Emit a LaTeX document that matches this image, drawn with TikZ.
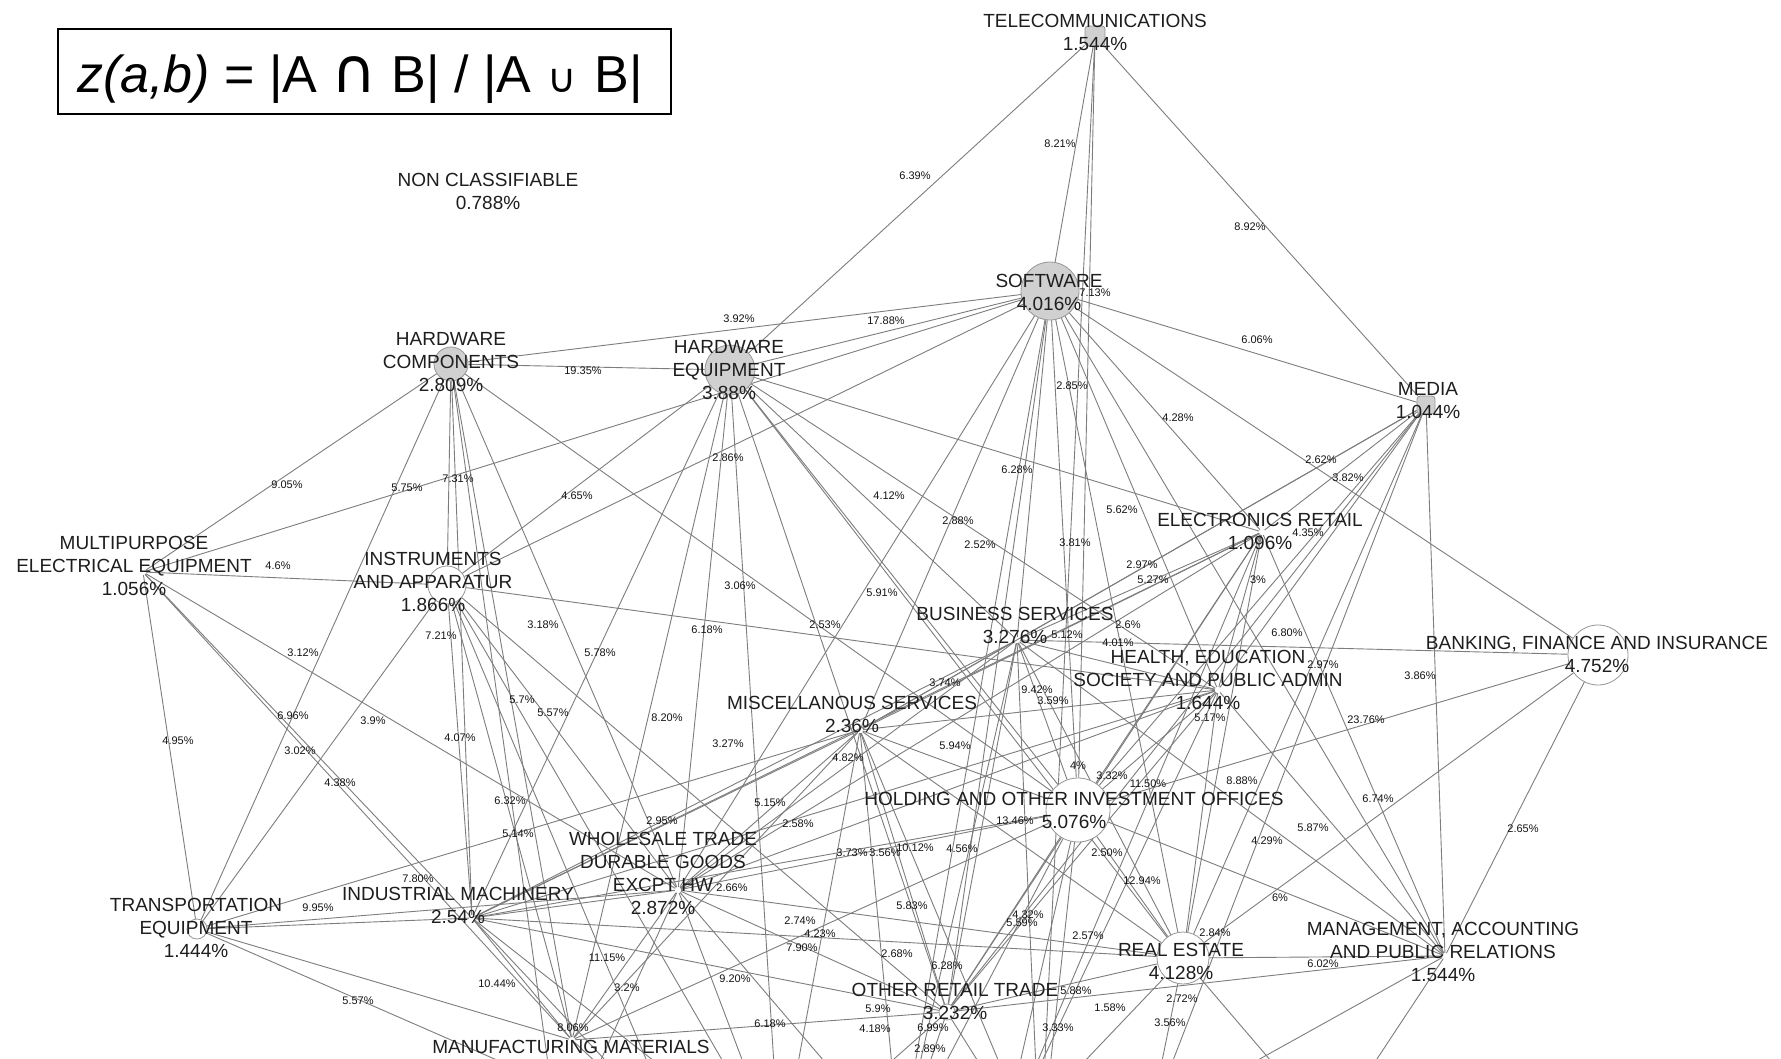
\documentclass[tikz,border=0pt]{standalone}
\usepackage{fontspec}
\setmainfont{Liberation Sans}
\newfontfamily\symfont{DejaVu Sans}
\definecolor{ecol}{RGB}{125,125,125}
\definecolor{vline}{RGB}{150,150,150}
\definecolor{vfill}{RGB}{208,208,208}
\definecolor{labc}{RGB}{30,30,30}
\definecolor{elc}{RGB}{20,20,20}
\pgfdeclarelayer{bg}
\pgfsetlayers{bg,main}
\tikzset{
  lnk/.style={draw=ecol, line width=0.9pt},
  vg/.style={circle, draw=vline, fill=vfill, line width=0.8pt, inner sep=0pt, minimum size=#1},
  vw/.style={circle, draw=vline, fill=white, line width=0.8pt, inner sep=0pt, minimum size=#1},
  vs/.style={rectangle, rounded corners=3pt, draw=vline, fill=vfill, line width=0.8pt, inner sep=0pt, minimum size=#1},
  vp/.style={circle, inner sep=0pt, minimum size=6pt},
  lab/.style={font=\fontsize{19}{23}\selectfont, text=labc, align=center, inner sep=0pt},
  el/.style={font=\fontsize{11}{11}\selectfont, text=elc, inner sep=0pt},
}
\begin{document}
\begin{tikzpicture}[x=1pt,y=-1pt]
\useasboundingbox (0,0) rectangle (1781,1058);

% formula box
\node[draw=black, line width=1.8pt, minimum width=613pt, minimum height=85pt, inner sep=0pt] (fbox) at (364.5,71.5) {};
\node[anchor=base, font=\fontsize{52}{52}\selectfont, inner sep=0pt] (ftext) at (360,92)
  {\textit{z(a,b)} = |A {\symfont\fontsize{62}{62}\selectfont ∩} B| / |A\hspace{0.3em}{\symfont\fontsize{40}{40}\selectfont ∪}\hspace{0.35em}B|};

% vertices
\node[vs=20] (T) at (1095,36) {};
\node[vg=58] (SW) at (1050,291) {};
\node[vg=34] (HC) at (451,364) {};
\node[vg=50] (HE) at (730,370) {};
\node[vs=18] (MD) at (1426,405) {};
\node[vp] (ER) at (1262,532) {};
\node[vp] (MP) at (143,572) {};
\node[vw=38] (IN) at (447,585) {};
\node[vp] (BS) at (1017,640) {};
\node[vp] (HL) at (1218,690) {};
\node[vw=60] (BK) at (1598,655) {};
\node[vp] (MS) at (860,730) {};
\node[vw=64] (HO) at (1078,810) {};
\node[vp] (WS) at (678,890) {};
\node[vw=20] (TR) at (197,929) {};
\node[vp] (IM) at (472,918) {};
\node[vw=52] (RE) at (1183,958) {};
\node[vp] (MG) at (1445,956) {};
\node[vw=16] (OR) at (947,1012) {};
\node[vp] (MM) at (572,1040) {};
\coordinate (X1) at (680,1140);
\coordinate (X2) at (780,1160);
\coordinate (X3) at (1040,1160);
\coordinate (X4) at (1000,1150);
\coordinate (X5) at (1150,1120);
\coordinate (X6) at (1330,1130);
\coordinate (X7) at (900,1150);
\coordinate (X8) at (560,1150);

% edges
\begin{pgfonlayer}{bg}
\fill[white] (0,0) rectangle (1781,1058);
\clip (0,0) rectangle (1781,1058);
\foreach \a/\b in {T/HE, T/SW, T/MD, T/HO, T/X3,
  SW/HC, SW/HE, SW/MD, SW/MP, SW/IN, SW/ER, SW/HL, SW/HO, SW/RE, SW/BK, SW/BS, SW/MS, SW/OR, SW/MG, SW/WS, SW/X7,
  HC/HE, HC/MP, HC/IN, HC/TR, HC/IM, HC/WS, HC/MM, HC/HO, HC/X8,
  HE/IN, HE/WS, HE/MM, HE/BS, HE/HO, HE/ER, HE/OR, HE/RE, HE/HL, HE/IM, HE/X2,
  MP/IN, MP/TR, MP/IM, MP/WS, MP/MM,
  IN/HL, IN/IM, IN/TR, IN/WS, IN/MM, IN/OR, IN/X2, IN/X1,
  TR/IM, TR/WS, TR/MS, TR/MM, TR/X1,
  IM/WS, IM/MM, IM/OR, IM/RE, IM/HO, IM/MS, IM/X2, IM/ER, IM/X1,
  WS/MS, WS/HO, WS/OR, WS/RE, WS/MM, WS/X2, WS/ER, WS/BS, WS/HL, WS/X7, WS/X8,
  MS/HO, MS/BS, MS/ER, MS/HL, MS/OR, MS/RE, MS/MM, MS/MD, MS/X7, MS/X3, MS/X2,
  BS/MD, BS/ER, BS/HL, BS/BK, BS/HO, BS/OR, BS/RE, BS/MG, BS/IM, BS/X7, BS/X3,
  ER/MD, ER/HL, ER/HO, ER/OR, ER/RE, ER/MG, ER/X4,
  HL/MD, HL/MG, HL/HO, HL/OR, HL/RE, HL/IM, HL/X4,
  HO/MD, HO/BK, HO/RE, HO/OR, HO/MG, HO/X3, HO/X4, HO/X7,
  RE/MD, RE/BK, RE/MG, RE/OR, RE/X4, RE/X5, RE/X6,
  OR/MG, OR/MD, OR/X2, OR/X3, OR/X7,
  MG/MD, MG/BK, MG/X5, MG/X6, MD/X5,
  MM/OR, MM/HO, MM/X1}
  \draw[lnk] (\a) -- (\b);
\end{pgfonlayer}

% vertex labels
\node[lab] (lT) at (1095,32.5) {TELECOMMUNICATIONS\\1.544\%};
\node[lab] (lNC) at (488,191) {NON CLASSIFIABLE\\0.788\%};
\node[lab] (lSW) at (1049,292) {SOFTWARE\\4.016\%};
\node[lab] (lHC) at (451,362) {HARDWARE\\COMPONENTS\\2.809\%};
\node[lab] (lHE) at (729,370) {HARDWARE\\EQUIPMENT\\3.88\%};
\node[lab] (lMD) at (1428,401) {MEDIA\\1.044\%};
\node[lab] (lER) at (1260,531) {ELECTRONICS RETAIL\\1.096\%};
\node[lab] (lMP) at (134,566) {MULTIPURPOSE\\ELECTRICAL EQUIPMENT\\1.056\%};
\node[lab] (lIN) at (433,582) {INSTRUMENTS\\AND APPARATUR\\1.866\%};
\node[lab] (lBS) at (1015,625) {BUSINESS SERVICES\\3.276\%};
\node[lab] (lHL) at (1208,680) {HEALTH, EDUCATION\\SOCIETY AND PUBLIC ADMIN\\1.644\%};
\node[lab] (lBK) at (1597,654) {BANKING, FINANCE AND INSURANCE\\4.752\%};
\node[lab] (lMS) at (852,714) {MISCELLANOUS SERVICES\\2.36\%};
\node[lab] (lHO) at (1074,810) {HOLDING AND OTHER INVESTMENT OFFICES\\5.076\%};
\node[lab] (lWS) at (663,873) {WHOLESALE TRADE\\DURABLE GOODS\\EXCPT HW\\2.872\%};
\node[lab] (lTR) at (196,928) {TRANSPORTATION\\EQUIPMENT\\1.444\%};
\node[lab] (lIM) at (458,905) {INDUSTRIAL MACHINERY\\2.54\%};
\node[lab] (lMM) at (571,1047) {MANUFACTURING MATERIALS};
\node[lab] (lRE) at (1181,961) {REAL ESTATE\\4.128\%};
\node[lab] (lMG) at (1443,952) {MANAGEMENT, ACCOUNTING\\AND PUBLIC RELATIONS\\1.544\%};
\node[lab] (lOR) at (955,1001) {OTHER RETAIL TRADE\\3.232\%};

% edge labels
\foreach \x/\y/\t [count=\i] in {1060/144/8.21, 915/176/6.39, 1250/227/8.92, 1095/293/7.13, 739/319/3.92, 886/321/17.88, 1257/340/6.06, 583/371/19.35, 1072/386/2.85, 1178/418/4.28, 1321/460/2.62, 1348/478/3.82, 1017/470/6.28, 728/458/2.86, 287/485/9.05, 407/488/5.75, 458/479/7.31, 577/496/4.65, 889/496/4.12, 1122/510/5.62, 958/521/2.88, 980/545/2.52, 1075/543/3.81, 1308/533/4.35, 1142/565/2.97, 1153/580/5.27, 1258/580/3, 740/586/3.06, 543/625/3.18, 707/630/6.18, 825/625/2.53, 882/593/5.91, 303/653/3.12, 441/636/7.21, 600/653/5.78, 522/700/5.7, 553/713/5.57, 667/718/8.20, 460/738/4.07, 293/716/6.96, 373/721/3.9, 300/751/3.02, 340/783/4.38, 178/741/4.95, 728/744/3.27, 848/758/4.82, 955/746/5.94, 770/803/5.15, 798/824/2.58, 510/801/6.32, 518/834/5.14, 662/821/2.95, 418/879/7.80, 318/908/9.95, 732/888/2.66, 852/853/3.73, 885/853/3.56, 915/848/10.12, 962/849/4.56, 912/906/5.83, 1028/915/4.32, 1022/923/5.59, 1088/936/2.57, 800/921/2.74, 820/934/4.23, 802/948/7.90, 897/954/2.68, 947/966/6.28, 1076/991/5.88, 735/979/9.20, 607/958/11.15, 627/988/3.2, 497/984/10.44, 358/1001/5.57, 573/1028/8.06, 770/1024/6.18, 878/1009/5.9, 875/1029/4.18, 933/1028/6.99, 930/1049/2.89, 1110/1008/1.58, 1058/1028/3.33, 1182/999/2.72, 1170/1023/3.56, 1215/933/2.84, 1142/881/12.94, 1107/853/2.50, 1078/766/4, 1112/776/3.32, 1148/784/11.50, 1242/781/8.88, 1267/841/4.29, 1313/828/5.87, 1280/898/6, 1378/799/6.74, 1523/829/2.65, 1323/964/6.02, 1366/720/23.76, 1420/676/3.86, 1323/665/2.97, 1287/633/6.80, 1128/625/2.6, 1118/643/4.01, 1067/635/5.12, 945/683/3.74, 1037/690/9.42, 1053/701/3.59, 1210/718/5.17, 1015/821/13.46, 278/566/4.6}
  \node[el] (e\i) at (\x,\y) {\t\%};
\end{tikzpicture}
\end{document}
